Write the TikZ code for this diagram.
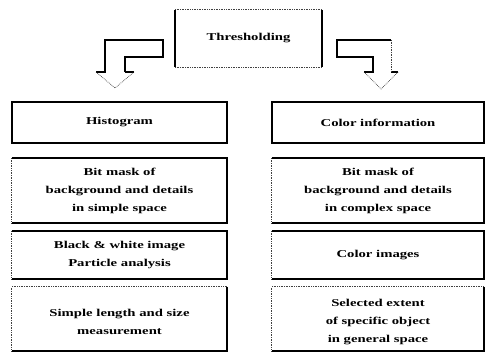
\documentclass[tikz,border=0pt]{standalone}
\usepackage{fontspec}
\newfontfamily\dfont{Liberation Serif Bold}[FakeStretch=1.4]
\begin{document}
\begin{tikzpicture}[x=1pt,y=-1pt,
  thk/.style={line width=1.6pt,line join=miter,black},
  dotl/.style={line width=0.7pt,densely dotted,black!75},
  txt/.style={font=\dfont\fontsize{10.5}{18}\selectfont,align=center,inner sep=0pt},
  lbox/.style={txt,minimum width=215pt},
  rbox/.style={txt,minimum width=212pt}]
\useasboundingbox (0,0) rectangle (486,353);
% top box
\node[txt,minimum width=147pt,minimum height=57pt] (top) at (248.5,38.5) {Thresholding};
\draw[thk] (top.north west) -- (top.south west);
\draw[thk] (top.north east) -- (top.south east);
\draw[dotl] (top.north west) -- (top.north east);
\draw[dotl] (top.south west) -- (top.south east);
% left column
\node[lbox,minimum height=41pt] (l1) at (119.5,122.5) {Histogram};
\node[lbox,minimum height=65pt] (l2) at (119.5,190.5) {Bit mask of\\background and details\\in simple space};
\node[lbox,minimum height=48pt] (l3) at (119.5,255) {Black \& white image\\Particle analysis};
\node[lbox,minimum height=64pt] (l4) at (119.5,319) {};
\node[txt] (l4t) at (119.5,322) {Simple length and size\\measurement};
% right column
\node[rbox,minimum height=41pt] (r1) at (378,122.5) {Color information};
\node[rbox,minimum height=65pt] (r2) at (378,190.5) {Bit mask of\\background and details\\in complex space};
\node[rbox,minimum height=48pt] (r3) at (378,255) {Color images};
\node[rbox,minimum height=64pt] (r4) at (378,319) {};
\node[txt] (r4t) at (378,322) {Selected extent\\of specific object\\in general space};
% header boxes: all thick
\foreach \n in {l1,r1}{
  \draw[thk] (\n.north west) rectangle (\n.south east);
}
% middle boxes: thick top/right/bottom, dotted left
\foreach \n in {l2,l3,r2,r3}{
  \draw[dotl] (\n.south west) -- (\n.north west);
  \draw[thk] (\n.north west) -- (\n.north east) -- (\n.south east) -- (\n.south west);
}
% bottom boxes: thick right/bottom, dotted top/left
\foreach \n in {l4,r4}{
  \draw[dotl] (\n.south west) -- (\n.north west) -- (\n.north east);
  \draw[thk] (\n.north east) -- (\n.south east) -- (\n.south west);
}
% left block arrow
\draw[thk] (125,72) -- (125,57) -- (163,57) -- (163,40) -- (105,40) -- (105,72) -- (96,72);
\draw[thk] (125,72) -- (134,72);
\draw[dotl] (96,72) -- (115,88) -- (134,72);
% right block arrow
\draw[thk] (391,40) -- (337,40) -- (337,57) -- (373,57) -- (373,72) -- (364,72);
\draw[thk] (391,72) -- (398,72);
\draw[dotl] (391,40) -- (391,72);
\draw[dotl] (364,72) -- (381,89) -- (398,72);
\end{tikzpicture}
\end{document}
